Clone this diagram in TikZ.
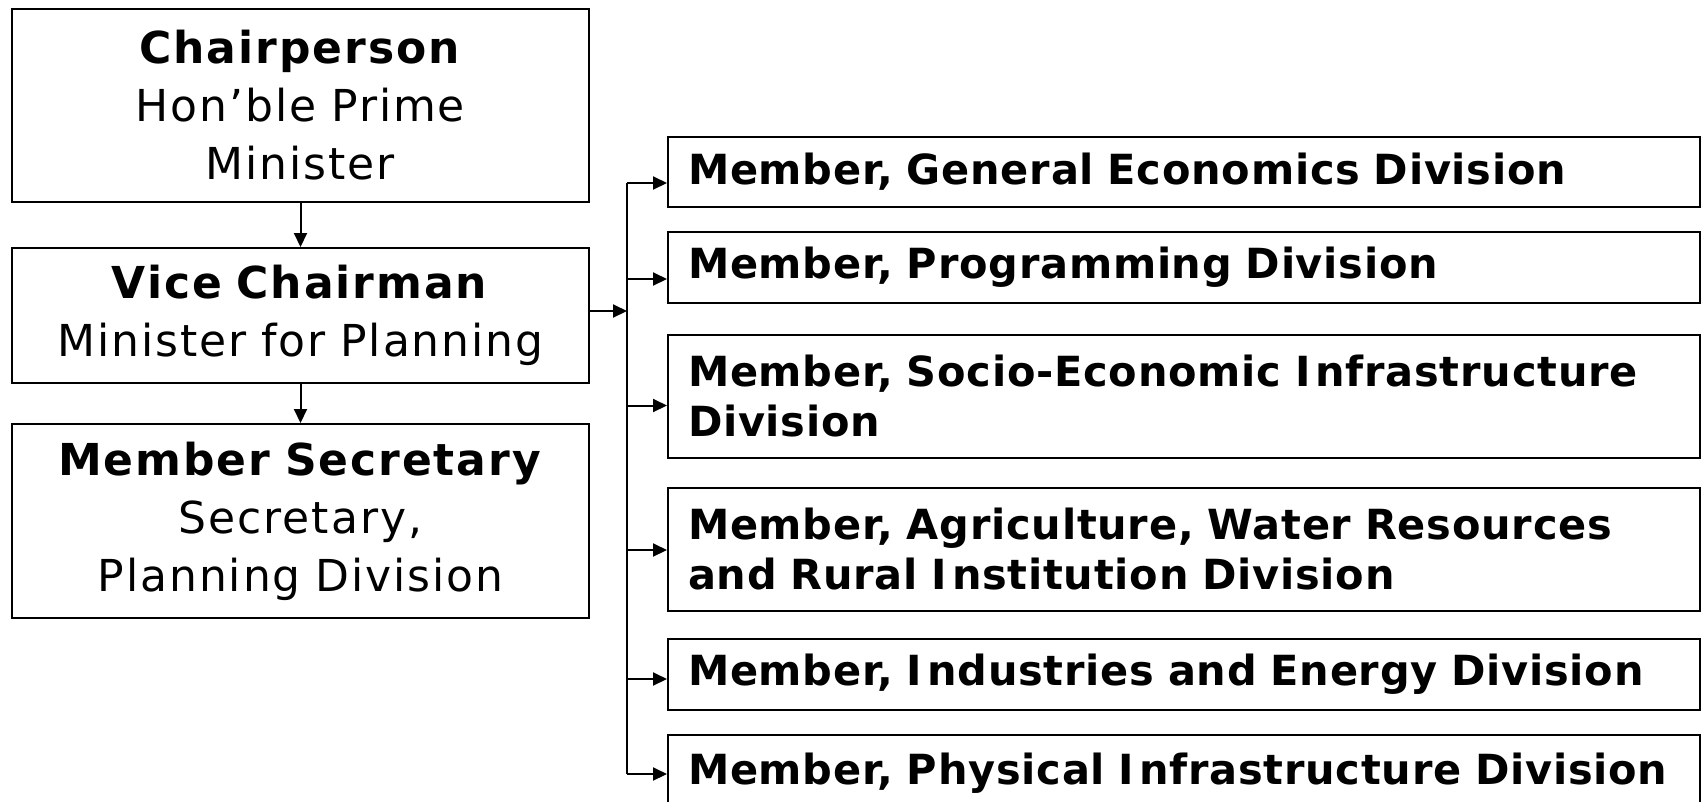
\documentclass[tikz,border=0pt]{standalone}
\usepackage{fontspec}
\setmainfont{DejaVu Sans}
\newfontfamily\leftfont{DejaVu Sans}[LetterSpace=4.4, WordSpace=1.7]
\newfontfamily\rightfont{DejaVu Sans}[LetterSpace=1.8, WordSpace=1.6]
\usetikzlibrary{arrows.meta}
\newcommand{\Igap}{I\kern.12em}
\begin{document}
\begin{tikzpicture}[x=1pt,y=-1pt,
  lbox/.style={draw=black, line width=2pt, anchor=north west, inner xsep=5pt, inner ysep=2pt,
    text width=567pt, align=center, minimum width=577pt,
    font=\leftfont\fontsize{44}{58}\selectfont},
  rbox/.style={draw=black, line width=2pt, anchor=north west, inner xsep=20pt, inner ysep=2pt,
    text width=992pt, align=left, minimum width=1032pt,
    font=\rightfont\fontsize{41.5}{50}\selectfont\bfseries},
  conn/.style={line width=2pt, -{Triangle[length=14pt,width=13pt]}},
  bus/.style={line width=2pt}
]
\useasboundingbox (0,0) rectangle (1702,801);
\clip (0,0) rectangle (1702,801);
\fill[white] (0,0) rectangle (1702,801);

% left column
\node[lbox, minimum height=193pt] (chair) at (11,8)
  {\textbf{Chairperson}\\Hon’ble Prime\\Minister};
\node[lbox, minimum height=135pt] (vice) at (11,247)
  {\textbf{Vice Chairman}\\Minister for Planning};
\node[lbox, minimum height=194pt] (msec) at (11,423)
  {\textbf{Member Secretary}\\Secretary,\\Planning Division};

% right column
\node[rbox, minimum height=70pt]  (gen)  at (667,136) {Member, General Economics Division};
\node[rbox, minimum height=71pt]  (prog) at (667,231) {Member, Programming Division};
\node[rbox, minimum height=123pt] (socio) at (667,334) {Member, Socio-Economic \Igap nfrastructure\\Division};
\node[rbox, minimum height=123pt] (agri) at (667,487) {Member, Agriculture, Water Resources\\and Rural \Igap nstitution Division};
\node[rbox, minimum height=71pt]  (ind)  at (667,638) {Member, \Igap ndustries and Energy Division};
\node[rbox, minimum height=76pt]  (phys) at (667,734) {Member, Physical \Igap nfrastructure Division};

% vertical links
\draw[conn] (chair) -- (vice);
\draw[conn] (vice) -- (msec);

% bus
\coordinate (vj) at (627,311);
\coordinate (b1) at (627,183);
\coordinate (b2) at (627,279);
\coordinate (b3) at (627,405.5);
\coordinate (b4) at (627,550);
\coordinate (b5) at (627,679);
\coordinate (b6) at (627,774);
\draw[conn] (vice.east |- vj) -- (vj);
\draw[bus] (b1) -- (b6);
\draw[conn] (b1) -- (b1 -| gen.west);
\draw[conn] (b2) -- (b2 -| prog.west);
\draw[conn] (b3) -- (b3 -| socio.west);
\draw[conn] (b4) -- (b4 -| agri.west);
\draw[conn] (b5) -- (b5 -| ind.west);
\draw[conn] (b6) -- (b6 -| phys.west);
\end{tikzpicture}
\end{document}
